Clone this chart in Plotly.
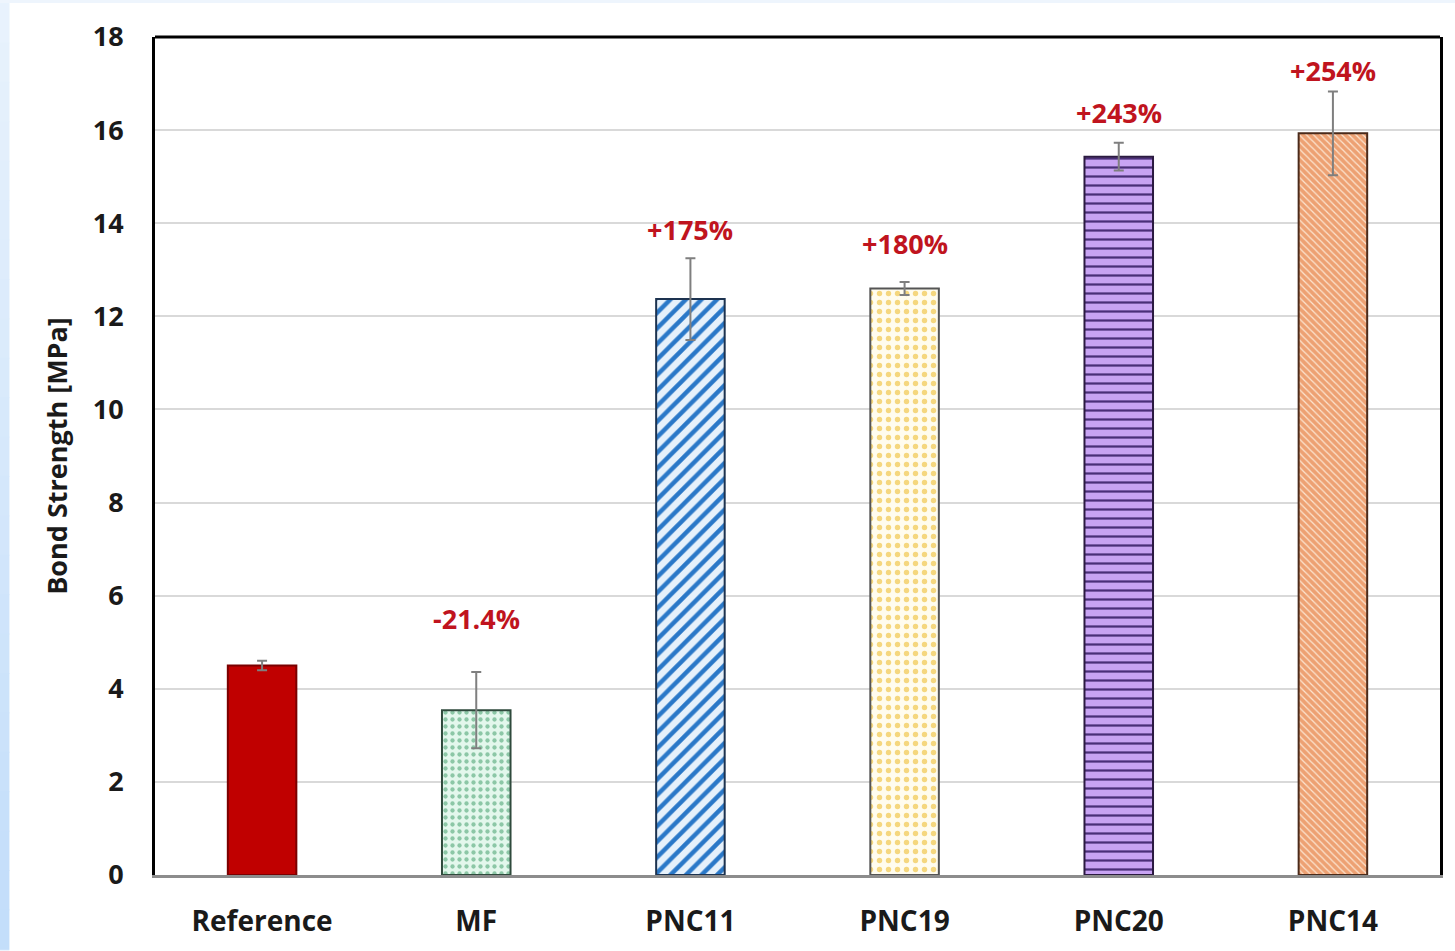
import plotly.graph_objects as go

# Bond strength by mix
categories = ["Reference", "MF", "PNC11", "PNC19", "PNC20", "PNC14"]
strength = [4.50, 3.54, 12.37, 12.60, 15.43, 15.93]
std_dev = [0.10, 0.82, 0.88, 0.14, 0.30, 0.90]
change_labels = ["", "-21.4%", "+175%", "+180%", "+243%", "+254%"]
label_y = [None, 5.51, 13.86, 13.56, 16.37, 17.29]
y_ticks = [0, 2, 4, 6, 8, 10, 12, 14, 16, 18]

# fill style per bar: (pattern, fg, bg, size, solidity, outline)
styles = [
    ("", "#c00000", "#c00000", 8, 0.3, "#7a0000"),
    (".", "#8cc7a6", "#e3f7ec", 7, 0.3, "#2f4a3c"),
    ("/", "#2a78c8", "#e6f1fb", 11, 0.4, "#1d3350"),
    (".", "#f5d77e", "#fffcee", 9, 0.28, "#555555"),
    ("-", "#4a2f78", "#c8a3f3", 9, 0.25, "#2b1a40"),
    ("\\", "#fce4cf", "#eda173", 5, 0.25, "#4a2a1a"),
]

fig = go.Figure()
for cat, val, err, st in zip(categories, strength, std_dev, styles):
    shape, fg, bg, size, sol, outline = st
    fig.add_trace(go.Bar(
        x=[cat], y=[val], width=0.32,
        marker=dict(
            color=bg,
            line=dict(color=outline, width=2),
            pattern=dict(shape=shape, fgcolor=fg, bgcolor=bg, size=size,
                         solidity=sol, fillmode="replace"),
        ),
        error_y=dict(type="data", array=[err], visible=True,
                     color="#7f7f7f", thickness=2, width=5),
        showlegend=False,
    ))

for cat, txt, ly in zip(categories, change_labels, label_y):
    if txt:
        fig.add_annotation(x=cat, y=ly, text="<b>%s</b>" % txt, showarrow=False,
                           font=dict(family="Open Sans", size=27, color="#c0141e"),
                           yanchor="middle")

# page background: pale blue border around a white card
L, R, T, B = 155, 12, 37, 74
W, H = 1455, 951
pw, ph = W - L - R, H - T - B
def px_x(v):
    return (v - L) / pw
def px_y(v):
    return (H - B - v) / ph

fig.add_shape(type="rect", xref="paper", yref="paper",
              x0=px_x(9), x1=px_x(W + 5), y0=px_y(3), y1=px_y(H + 5),
              fillcolor="white", line_width=0, layer="below")
n = 24
for i in range(n):
    t = i / (n - 1)
    r = int(0xe8 + (0xc3 - 0xe8) * t)
    g = int(0xf2 + (0xde - 0xf2) * t)
    b = int(0xfd + (0xfa - 0xfd) * t)
    fig.add_shape(type="rect", xref="paper", yref="paper",
                  x0=px_x(-2), x1=px_x(9),
                  y0=px_y(3 + (H - 3) * (i + 1) / n + 1), y1=px_y(3 + (H - 3) * i / n),
                  fillcolor="rgb(%d,%d,%d)" % (r, g, b), line_width=0, layer="below")

# top frame line
fig.add_shape(type="line", xref="paper", yref="paper", x0=0, x1=1, y0=1, y1=1,
              line=dict(color="black", width=3))

fig.update_layout(
    width=W, height=H,
    margin=dict(l=L, r=R, t=T, b=B),
    paper_bgcolor="#eef5fd",
    plot_bgcolor="white",
    barmode="overlay",
    font=dict(family="Open Sans", color="#1a1a1a"),
)
fig.update_xaxes(
    showline=True, linecolor="#8c8c8c", linewidth=3,
    tickfont=dict(size=28, family="Open Sans", weight="bold"),
    ticklabelstandoff=19, ticks="",
)
fig.update_yaxes(
    range=[0, 18], tickvals=y_ticks, showgrid=True, gridcolor="#d9d9d9", gridwidth=1.5,
    showline=True, linecolor="black", linewidth=3, mirror=True,
    tickfont=dict(size=27, family="Open Sans", weight="bold"),
    ticklabelstandoff=23, ticks="", zeroline=False,
    title=dict(text="<b>Bond Strength [MPa]</b>", font=dict(size=27, family="Open Sans"),
               standoff=18),
)

fig.write_html("out.html")
